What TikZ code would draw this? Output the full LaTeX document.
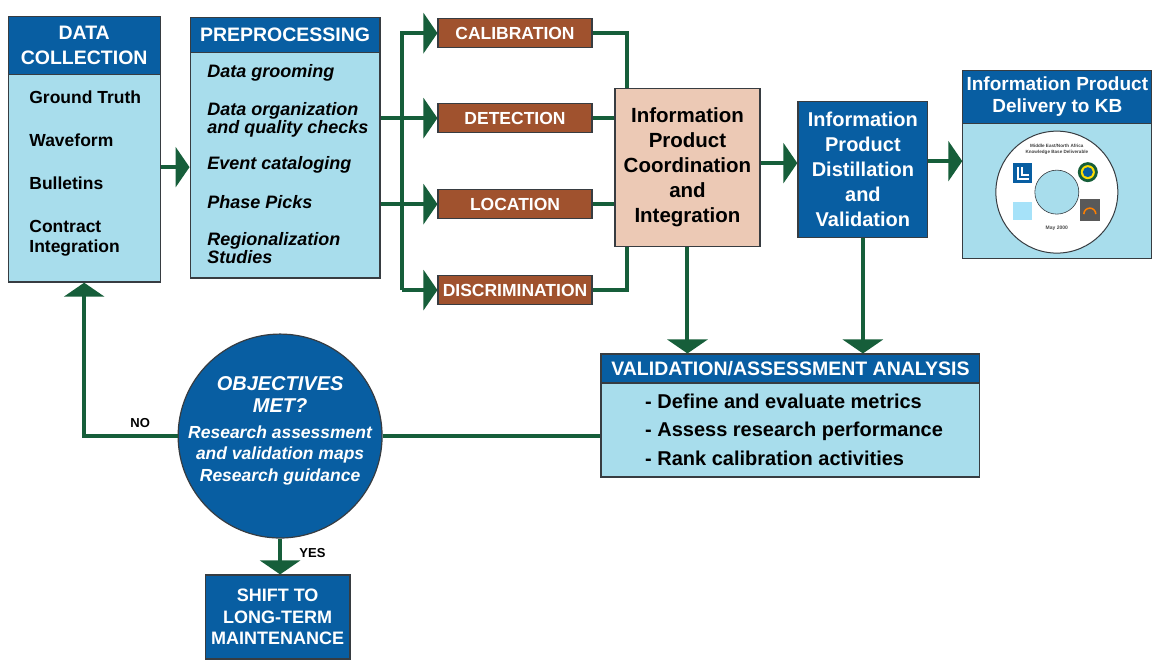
\documentclass[tikz,border=0pt]{standalone}
\usepackage{fontspec}
\setmainfont{Liberation Sans}
\usetikzlibrary{arrows.meta}
\definecolor{hdblue}{RGB}{8,94,162}
\definecolor{ltblue}{RGB}{168,221,236}
\definecolor{brick}{RGB}{160,82,46}
\definecolor{tan}{RGB}{236,201,181}
\definecolor{arrowgreen}{RGB}{22,94,58}
\definecolor{boxline}{RGB}{55,60,65}
\newcommand{\hdfont}{\fontsize{19.5}{25}\selectfont\bfseries}
\newcommand{\tgfont}{\fontsize{17.5}{19}\selectfont\bfseries}
\newcommand{\dcfont}{\fontsize{17.5}{20}\selectfont\bfseries}
\newcommand{\ppfont}{\fontsize{18}{18}\selectfont\bfseries\itshape}
\newcommand{\bgfont}{\fontsize{20.5}{25}\selectfont\bfseries}

\begin{document}
\begin{tikzpicture}[x=1pt,y=1pt,
  box/.style={draw=boxline, line width=1.2pt, inner sep=0pt},
  head/.style={box, fill=hdblue, text=white, font=\hdfont, align=center},
  body/.style={box, fill=ltblue},
  tag/.style={box, fill=brick, text=white, font=\tgfont, minimum width=154pt, minimum height=29pt},
  item/.style={anchor=west, inner sep=0pt, align=left},
  link/.style={draw=arrowgreen, line width=4pt},
  flow/.style={link, -{Triangle[width=40pt,length=14pt]}}]
\filldraw[color=white] (0,0) rectangle (1154,660);
% Drawing boxes
% Data collection
\node[body, minimum width=152pt, minimum height=266pt] (dc) at (84,511) {};
\node[head, minimum width=152pt, minimum height=58pt] (dchead) at (84,615) {DATA\\COLLECTION};
\node[item, font=\dcfont] (truth) at (29,563) {Ground Truth};
\node[item, font=\dcfont] (wave) at (29,520) {Waveform};
\node[item, font=\dcfont] (bull) at (29,477) {Bulletins};
\node[item, font=\dcfont] (contr) at (29,422) {Contract\\Integration};
% Preprocessing
\node[body, minimum width=190pt, minimum height=261pt] (pp) at (285,512.5) {};
\node[head, minimum width=190pt, minimum height=35pt] (pphead) at (285,625.5) {PREPROCESSING};
\node[item, font=\ppfont] (groom) at (207,587) {Data grooming};
\node[item, font=\ppfont] (organ) at (207,540) {Data organization\\and quality checks};
\node[item, font=\ppfont] (event) at (207,495) {Event cataloging};
\node[item, font=\ppfont] (phase) at (207,458) {Phase Picks};
\node[item, font=\ppfont] (region) at (207,412) {Regionalization\\Studies};
% Research tasks
\node[tag] (cal) at (515,627) {CALIBRATION};
\node[tag] (det) at (515,542) {DETECTION};
\node[tag] (loc) at (515,456) {LOCATION};
\node[tag] (dis) at (515,370) {DISCRIMINATION};
% Products
\node[box, fill=tan, font=\bgfont, align=center, minimum width=145pt, minimum height=158pt] (coord) at (687.5,493) {Information\\Product\\Coordination\\and\\Integration};
\node[box, fill=hdblue, text=white, font=\fontsize{20}{25}\selectfont\bfseries, align=center, minimum width=130pt, minimum height=136pt] (dist) at (863,491) {Information\\Product\\Distillation\\and\\Validation};
\node[body, minimum width=189pt, minimum height=188pt] (kb) at (1057.5,496) {};
\node[head, font=\fontsize{19}{22}\selectfont\bfseries, minimum width=189pt, minimum height=53pt] (kbhead) at (1057.5,563.5) {Information Product\\Delivery to KB};
% Knowledge base disc
\node[circle, draw=boxline, line width=1pt, fill=white, minimum size=122pt] (cd) at (1057,468) {};
\node[circle, draw=boxline, line width=0.6pt, fill=ltblue, minimum size=44pt] (hole) at (cd) {};
\node[font=\fontsize{4.6}{5.6}\selectfont\bfseries, align=center, text=black!75] (cdtitle) at (1057,511) {Middle East/North Africa\\Knowledge Base Deliverable};
\node[font=\fontsize{5}{6}\selectfont\bfseries, text=black!70] (cddate) at (1057,432) {May 2000};
\fill[hdblue] (1013,477) rectangle (1032,497);
\draw[white, line width=1.5pt] (1018,493) -- (1018,481) -- (1029,481) (1022,493) -- (1022,485) -- (1029,485);
\fill[arrowgreen] (1088,488) circle (10pt);
\fill[yellow!80!orange] (1088,488) circle (7pt);
\fill[hdblue] (1088,488) circle (5pt);
\fill[cyan!35] (1013,440) rectangle (1032,458);
\fill[black!65] (1080,439) rectangle (1100,461);
\draw[orange, line width=1.5pt] (1084,446) arc (180:0:6pt);
% Validation / assessment
\node[body, minimum width=379pt, minimum height=123pt] (val) at (790.5,244.5) {};
\node[head, font=\fontsize{19.5}{23}\selectfont\bfseries, minimum width=379pt, minimum height=29pt] (valhead) at (790.5,291.5) {VALIDATION/ASSESSMENT ANALYSIS};
\node[item, anchor=base west, font=\fontsize{20}{24}\selectfont\bfseries] (metric) at (645,252) {- Define and evaluate metrics};
\node[item, anchor=base west, font=\fontsize{20}{24}\selectfont\bfseries] (perf) at (645,224) {- Assess research performance};
\node[item, anchor=base west, font=\fontsize{20}{24}\selectfont\bfseries] (rank) at (645,195) {- Rank calibration activities};
% Decision and end state
\node[circle, draw=boxline, line width=1.2pt, fill=hdblue, minimum size=204pt] (obj) at (280,224) {};
\node[text=white, align=center, font=\fontsize{20}{22}\selectfont\bfseries\itshape] (objtitle) at (280,266) {OBJECTIVES\\MET?};
\node[text=white, align=center, font=\fontsize{17.5}{21.5}\selectfont\bfseries\itshape] (objtext) at (280,205) {Research assessment\\and validation maps\\Research guidance};
\node[head, font=\fontsize{18}{21.5}\selectfont\bfseries, minimum width=145pt, minimum height=84pt] (shift) at (277.5,43) {SHIFT TO\\LONG-TERM\\MAINTENANCE};
% Drawing connectors
\coordinate (bus) at (402,0);
\coordinate (rbus) at (627,0);
\draw[flow] (dc.east |- 0,493) -- (pp.west |- 0,493);
\draw[flow] (bus |- dis.west) |- (cal.west);
\draw[flow] (bus |- dis.west) -- (dis.west);
\draw[flow] (pp.east |- det.west) -- (det.west);
\draw[flow] (pp.east |- loc.west) -- (loc.west);
\draw[link] (cal.east) -| (rbus |- coord.north);
\draw[link] (det.east) -- (coord.west |- det.east);
\draw[link] (loc.east) -- (coord.west |- loc.east);
\draw[link] (dis.east) -| (rbus |- coord.south);
\draw[flow] (coord.east |- 0,497) -- (dist.west |- 0,497);
\draw[flow] (dist.east |- 0,499) -- (kb.west |- 0,499);
\draw[flow] (coord.south) -- (coord.south |- valhead.north);
\draw[flow] (dist.south) -- (dist.south |- valhead.north);
\draw[link] (obj.east) -- (obj.east -| val.west);
\draw[flow] (obj.west) -| node[pos=0.2, above=3pt, font=\fontsize{13}{15}\selectfont\bfseries, text=black] (no) {NO} (dc.south);
\draw[flow] (obj.south) -- node[pos=0.4, right=14pt, font=\fontsize{13}{15}\selectfont\bfseries, text=black] (yes) {YES} (obj.south |- shift.north);
\end{tikzpicture}
\end{document}
